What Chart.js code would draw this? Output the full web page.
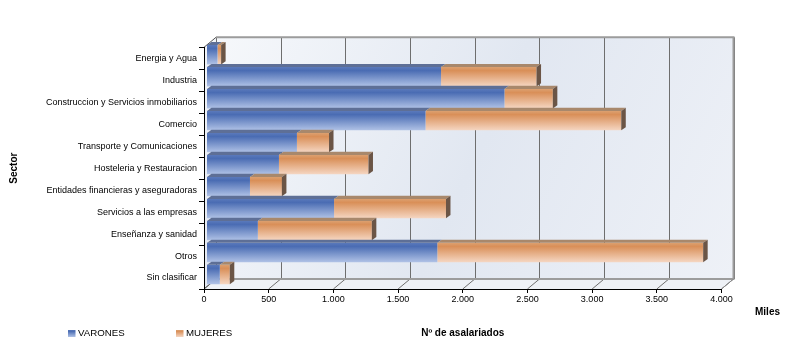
<!DOCTYPE html>
<html>
<head>
<meta charset="utf-8">
<script src="https://cdn.jsdelivr.net/npm/chart.js@4/dist/chart.umd.min.js"></script>
<style>
html,body{margin:0;padding:0;background:#ffffff;}
#wrap{width:804px;height:361px;}
</style>
</head>
<body>
<div id="wrap"><canvas id="c" width="804" height="361"></canvas></div>
<script>
// ---- data ----
const categories = [
  'Energia y Agua',
  'Industria',
  'Construccion y Servicios inmobiliarios',
  'Comercio',
  'Transporte y Comunicaciones',
  'Hosteleria y Restauracion',
  'Entidades financieras y aseguradoras',
  'Servicios a las empresas',
  'Enseñanza y sanidad',
  'Otros',
  'Sin clasificar'
];
const varones = [85, 1813, 2303, 1693, 699, 560, 336, 986, 397, 1784, 103];
const mujeres = [28, 738, 374, 1513, 248, 692, 247, 865, 881, 2055, 77];
const xTickValues = [0, 500, 1000, 1500, 2000, 2500, 3000, 3500, 4000];
const seriesNames = ['VARONES', 'MUJERES'];
const xAxisTitle = 'Nº de asalariados';
const yAxisTitle = 'Sector';
const unitLabel = 'Miles';

// ---- styling ----
const FONT = 'Liberation Sans, Arial, Helvetica, sans-serif';
Chart.defaults.font.family = FONT;
Chart.defaults.color = '#000';

const BLUE_STOPS = [[0, '#5a79bb'], [0.18, '#4a6cb3'], [1, '#b0c2e6']];
const ORANGE_STOPS = [[0, '#dca070'], [0.18, '#d98f58'], [1, '#f5d6c2']];
const BLUE_TOP = '#5e6f96';
const ORANGE_TOP = '#a8886c';
const SIDE = '#6b5546';

const WALL = {dx: 12, dy: 10};
const BARD = {dx: 4.5, dy: 3.2};
const SHIFT = {x: 2.5, y: -3.5};
const BAR_PCT = 0.88;

function fmtThousands(v) {
  v = Math.round(v);
  if (v >= 1000) return Math.floor(v / 1000) + '.' + String(v % 1000).padStart(3, '0');
  return String(v);
}

function barGradient(context, stops) {
  const chart = context.chart;
  const y = chart.scales && chart.scales.y;
  if (!y || context.dataIndex === undefined || !chart.chartArea) return stops[1][1];
  const c = y.getPixelForValue(context.dataIndex);
  const half = (y.height / categories.length) * BAR_PCT / 2;
  const g = chart.ctx.createLinearGradient(0, c - half, 0, c + half);
  stops.forEach(s => g.addColorStop(s[0], s[1]));
  return g;
}

function path(ctx, pts) {
  ctx.beginPath();
  ctx.moveTo(pts[0][0], pts[0][1]);
  for (let i = 1; i < pts.length; i++) ctx.lineTo(pts[i][0], pts[i][1]);
  ctx.closePath();
}

const threeD = {
  id: 'threeD',
  beforeDraw(chart) {
    const {ctx, chartArea: a, scales: {x}} = chart;
    const L = a.left, R = a.right, T = a.top, Bt = a.bottom;
    const bl = L + WALL.dx, br = R + WALL.dx, bt = T - WALL.dy, bb = Bt - WALL.dy;
    ctx.save();
    // back wall
    const g = ctx.createLinearGradient(bl, bt, br, bb);
    g.addColorStop(0, '#f6f8fb');
    g.addColorStop(0.5, '#e1e7f1');
    g.addColorStop(1, '#eef1f7');
    ctx.fillStyle = g;
    ctx.fillRect(bl, bt, br - bl, bb - bt);
    // left wall
    const gl = ctx.createLinearGradient(L, T, L, Bt);
    gl.addColorStop(0, '#f1f4f9');
    gl.addColorStop(1, '#e4e9f2');
    ctx.fillStyle = gl;
    path(ctx, [[L, T], [bl, bt], [bl, bb], [L, Bt]]);
    ctx.fill();
    // floor
    ctx.fillStyle = '#eef1f6';
    path(ctx, [[L, Bt], [R, Bt], [br, bb], [bl, bb]]);
    ctx.fill();
    // grid lines on back wall and floor
    ctx.strokeStyle = '#6e6e6e';
    ctx.lineWidth = 1;
    xTickValues.forEach(v => {
      const px = x.getPixelForValue(v);
      ctx.beginPath();
      ctx.moveTo(Math.round(px + WALL.dx) + 0.5, bt);
      ctx.lineTo(Math.round(px + WALL.dx) + 0.5, bb);
      ctx.stroke();
      ctx.beginPath();
      ctx.moveTo(px, Bt);
      ctx.lineTo(px + WALL.dx, bb);
      ctx.stroke();
    });
    // wall borders
    ctx.strokeStyle = '#9c9c9c';
    ctx.lineWidth = 2;
    ctx.beginPath();
    ctx.moveTo(bl, bt);
    ctx.lineTo(br, bt);
    ctx.lineTo(br, bb);
    ctx.lineTo(bl, bb);
    ctx.stroke();
    ctx.lineWidth = 1;
    ctx.strokeStyle = '#8a8a8a';
    ctx.beginPath();
    ctx.moveTo(R, Bt);
    ctx.lineTo(br, bb);
    ctx.stroke();
    ctx.strokeStyle = '#555';
    ctx.beginPath();
    ctx.moveTo(L, T);
    ctx.lineTo(bl, bt);
    ctx.moveTo(L, Bt);
    ctx.lineTo(bl, bb);
    ctx.stroke();
    ctx.restore();
  },
  beforeDatasetsDraw(chart) {
    chart.ctx.save();
    chart.ctx.translate(SHIFT.x, SHIFT.y);
  },
  afterDatasetsDraw(chart) {
    const ctx = chart.ctx;
    const metas = [chart.getDatasetMeta(0), chart.getDatasetMeta(1)];
    for (let j = 0; j < categories.length; j++) {
      metas.forEach((meta, di) => {
        const bar = meta.data[j];
        if (!bar) return;
        const p = bar.getProps(['x', 'y', 'base', 'height'], true);
        const x0 = Math.min(p.base, p.x), x1 = Math.max(p.base, p.x);
        const top = p.y - p.height / 2, bot = p.y + p.height / 2;
        // top face
        ctx.fillStyle = di === 0 ? BLUE_TOP : ORANGE_TOP;
        path(ctx, [[x0, top], [x0 + BARD.dx, top - BARD.dy], [x1 + BARD.dx, top - BARD.dy], [x1, top]]);
        ctx.fill();
        // side face on the end of the stack
        if (di === metas.length - 1) {
          ctx.fillStyle = SIDE;
          path(ctx, [[x1, top], [x1 + BARD.dx, top - BARD.dy], [x1 + BARD.dx, bot - BARD.dy], [x1, bot]]);
          ctx.fill();
        }
      });
    }
    ctx.restore();
  },
  afterDraw(chart) {
    const ctx = chart.ctx;
    ctx.save();
    // legend
    const items = [
      {x: 68, text: seriesNames[0], stops: BLUE_STOPS},
      {x: 176, text: seriesNames[1], stops: ORANGE_STOPS}
    ];
    items.forEach(it => {
      const g = ctx.createLinearGradient(0, 330, 0, 337);
      it.stops.forEach(s => g.addColorStop(s[0], s[1]));
      ctx.fillStyle = g;
      ctx.fillRect(it.x, 330, 7.5, 7);
      ctx.fillStyle = '#000';
      ctx.font = '9.7px ' + FONT;
      ctx.textBaseline = 'middle';
      ctx.textAlign = 'left';
      ctx.fillText(it.text, it.x + 10, 333.8);
    });
    // unit label
    ctx.font = 'bold 10px ' + FONT;
    ctx.fillStyle = '#000';
    ctx.textBaseline = 'middle';
    ctx.fillText(unitLabel, 755, 312.5);
    ctx.restore();
  }
};

new Chart(document.getElementById('c'), {
  type: 'bar',
  data: {
    labels: categories,
    datasets: [
      {label: seriesNames[0], data: varones, backgroundColor: c => barGradient(c, BLUE_STOPS), borderWidth: 0, barPercentage: BAR_PCT, categoryPercentage: 1},
      {label: seriesNames[1], data: mujeres, backgroundColor: c => barGradient(c, ORANGE_STOPS), borderWidth: 0, barPercentage: BAR_PCT, categoryPercentage: 1}
    ]
  },
  options: {
    indexAxis: 'y',
    responsive: false,
    animation: false,
    devicePixelRatio: 1,
    layout: {padding: {left: 0, top: 47.3, right: 82.5, bottom: 0}},
    plugins: {legend: {display: false}, tooltip: {enabled: false}},
    scales: {
      x: {
        stacked: true,
        min: 0,
        max: 4000,
        afterBuildTicks: s => { s.ticks = xTickValues.map(v => ({value: v})); },
        afterFit: s => { s.height = 72; },
        ticks: {font: {size: 9}, color: '#000', padding: 1, maxRotation: 0, autoSkip: false, callback: v => fmtThousands(v)},
        grid: {drawOnChartArea: false, drawTicks: true, tickLength: 4, color: '#000'},
        border: {display: true, color: '#000', width: 1},
        title: {display: true, text: xAxisTitle, color: '#000', font: {size: 10, weight: 'bold'}, padding: {top: 0, bottom: 22}}
      },
      y: {
        stacked: true,
        afterFit: s => { s.width = 204; },
        ticks: {font: {size: 9}, color: '#000', padding: 2, autoSkip: false},
        grid: {drawOnChartArea: false, drawTicks: true, tickLength: 5, color: '#000', offset: true},
        border: {display: true, color: '#000', width: 1},
        title: {display: true, text: yAxisTitle, color: '#000', font: {size: 10, weight: 'bold'}, padding: {top: 8, bottom: 0}}
      }
    }
  },
  plugins: [threeD]
});
</script>
</body>
</html>
